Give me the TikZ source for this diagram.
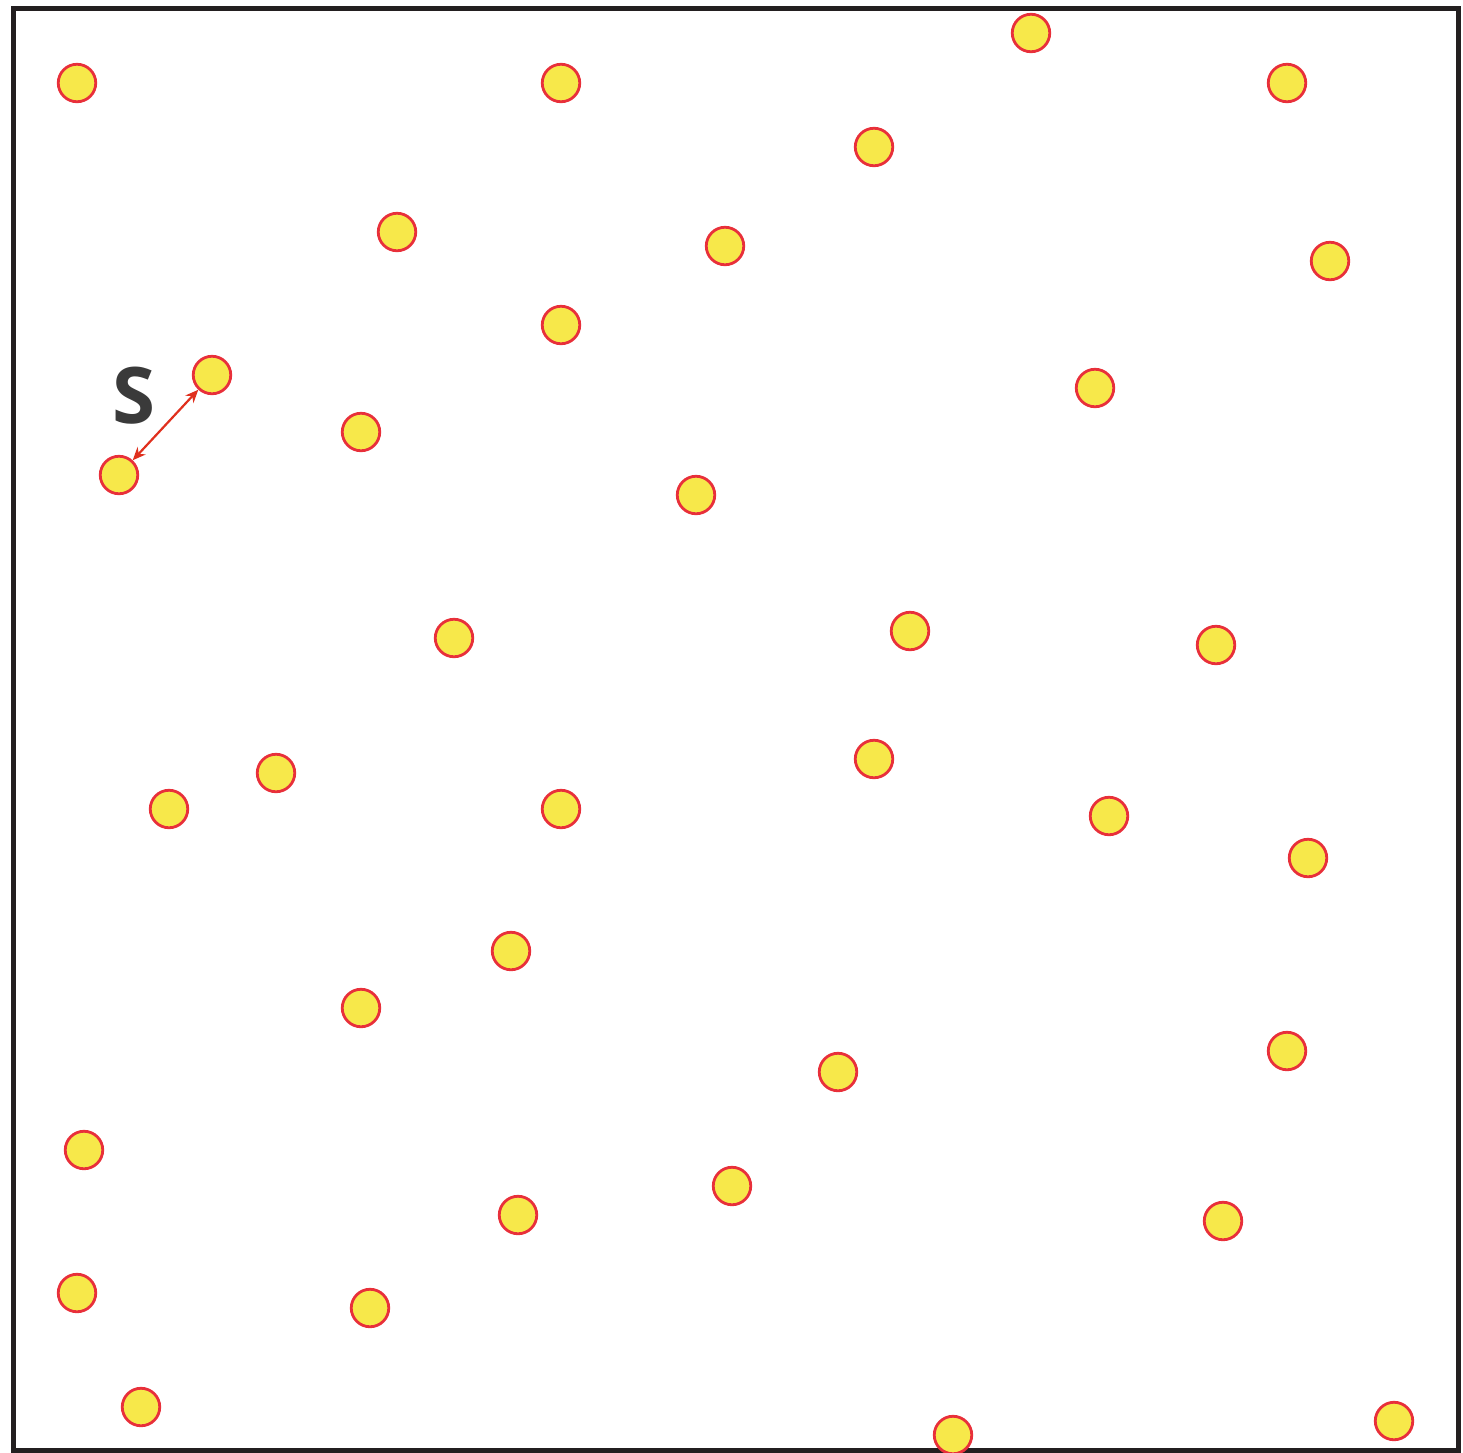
\documentclass[tikz,border=0pt]{standalone}
\usepackage{fontspec}
\newfontfamily\labelfont{Open Sans}
\usetikzlibrary{arrows.meta}
\definecolor{dotfill}{HTML}{F7E84A}
\definecolor{dotline}{HTML}{E8303A}
\definecolor{arrowred}{HTML}{E0301E}
\definecolor{framegray}{HTML}{231F20}
\definecolor{labelgray}{HTML}{3A3A3A}
\begin{document}
\begin{tikzpicture}[x=1pt,y=-1pt,
  dot/.style={circle,draw=dotline,fill=dotfill,line width=2.8pt,minimum size=37.5pt,inner sep=0pt},
  frameline/.style={draw=framegray,line width=5pt},
  darrow/.style={draw=arrowred,line width=2.2pt,{Stealth[length=13pt,width=11pt]}-{Stealth[length=13pt,width=11pt]}}]
\useasboundingbox (0,0) rectangle (1463,1452);
\begin{scope}
\clip (0,0) rectangle (1463,1452);
\draw[frameline] (13,8) rectangle (1458,1450);
\foreach \x/\y [count=\i] in {77/83,561/83,1031/33,1287/83,874/147,397/232,725/246,1330/261,561/325,212/375,1095/388,361/432,119/475,696/495,454/638,910/631,1216/645,276/773,169/809,561/809,874/759,1109/816,1308/858,511/951,361/1008,838/1072,1287/1051,84/1150,732/1186,518/1215,1223/1221,77/1293,370/1308,141/1407,953/1435,1394/1421}
  \node[dot] (d\i) at (\x,\y) {};
\end{scope}
\draw[darrow] (d13) -- (d10);
\node[text=labelgray,font=\labelfont\bfseries\fontsize{78}{78}\selectfont] (slabel) at (134,396) {S};
\end{tikzpicture}
\end{document}
